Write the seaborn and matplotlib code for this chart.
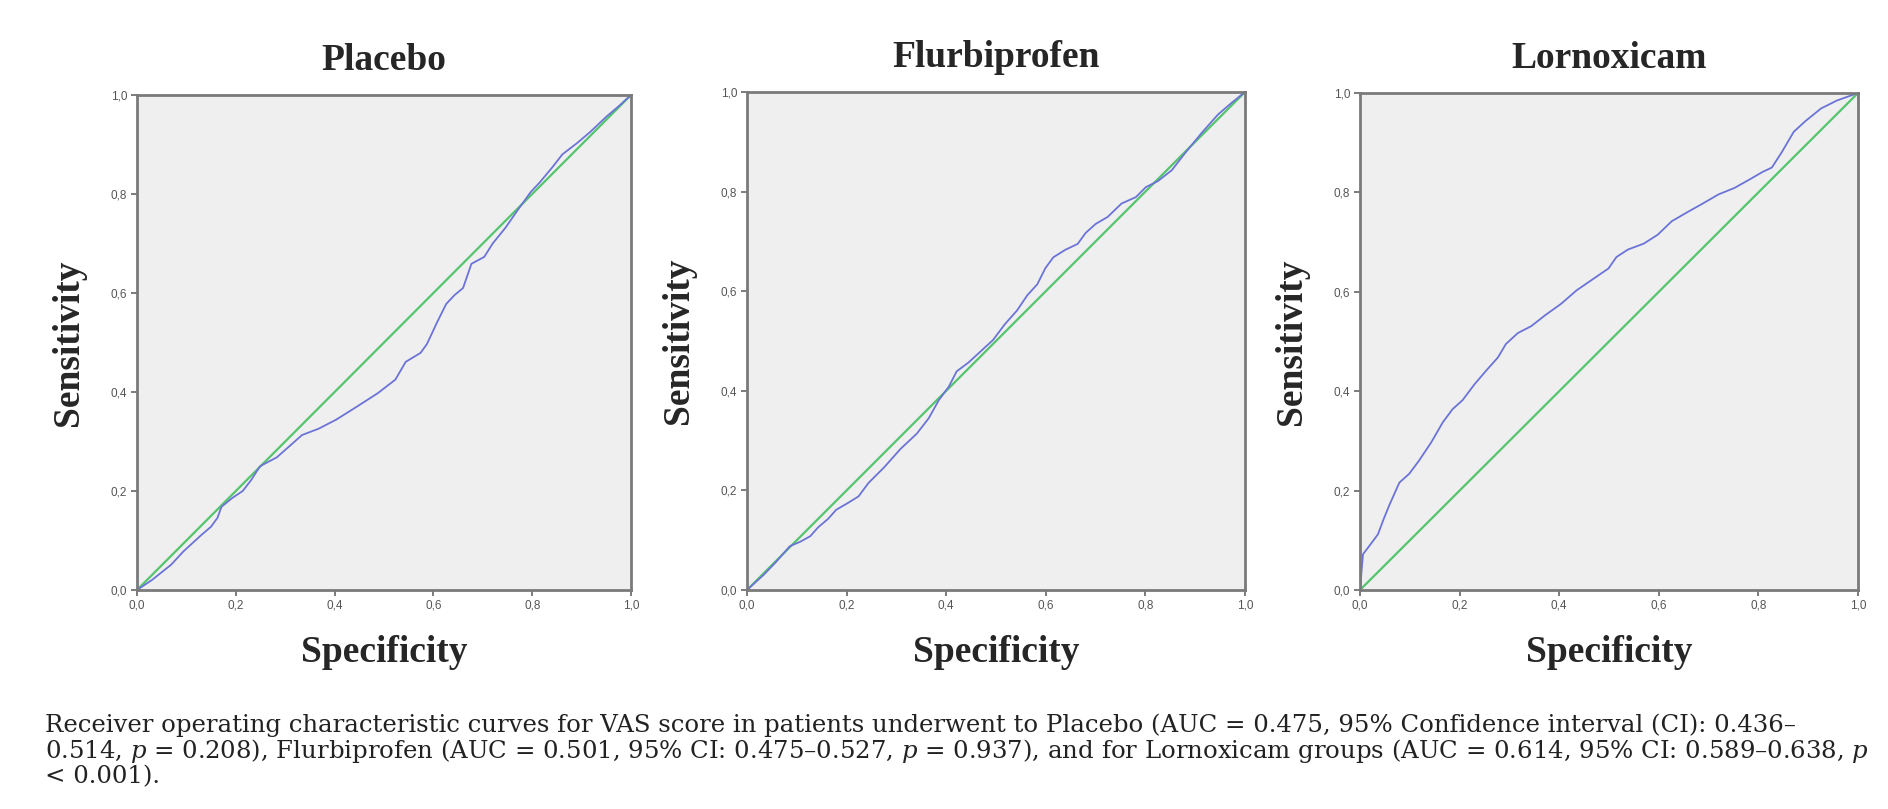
import matplotlib
matplotlib.use("Agg")
import matplotlib.pyplot as plt
import seaborn as sns
import pandas as pd

# ROC curves (1 - specificity on x, sensitivity on y)
placebo_x = [0, 0.03, 0.069, 0.094, 0.129, 0.150, 0.163, 0.171, 0.193, 0.214, 0.231, 0.249,
             0.283, 0.308, 0.334, 0.368, 0.403, 0.446, 0.488, 0.523, 0.544, 0.574, 0.587,
             0.608, 0.626, 0.643, 0.660, 0.677, 0.703, 0.720, 0.746, 0.771, 0.797, 0.814,
             0.840, 0.861, 0.891, 0.917, 0.951, 0.977, 1.0]
placebo_y = [0, 0.02, 0.051, 0.078, 0.110, 0.128, 0.146, 0.168, 0.186, 0.200, 0.222, 0.250,
             0.268, 0.290, 0.313, 0.326, 0.344, 0.371, 0.398, 0.425, 0.461, 0.479, 0.497,
             0.542, 0.578, 0.596, 0.610, 0.659, 0.673, 0.700, 0.732, 0.768, 0.804, 0.822,
             0.853, 0.880, 0.903, 0.925, 0.957, 0.979, 1.0]

flurbi_x = [0, 0.034, 0.058, 0.086, 0.107, 0.127, 0.143, 0.163, 0.179, 0.203, 0.224, 0.244,
            0.276, 0.308, 0.341, 0.365, 0.385, 0.405, 0.421, 0.445, 0.470, 0.494, 0.518,
            0.542, 0.563, 0.583, 0.599, 0.615, 0.639, 0.664, 0.680, 0.700, 0.724, 0.752,
            0.781, 0.801, 0.825, 0.853, 0.881, 0.914, 0.946, 0.974, 1.0]
flurbi_y = [0, 0.031, 0.056, 0.088, 0.097, 0.108, 0.126, 0.143, 0.161, 0.175, 0.188, 0.215,
            0.247, 0.283, 0.314, 0.345, 0.381, 0.408, 0.439, 0.457, 0.480, 0.502, 0.534,
            0.561, 0.592, 0.614, 0.646, 0.668, 0.683, 0.695, 0.717, 0.735, 0.749, 0.776,
            0.789, 0.809, 0.821, 0.843, 0.879, 0.919, 0.955, 0.979, 1.0]

lorno_x = [0, 0.006, 0.016, 0.036, 0.048, 0.059, 0.079, 0.099, 0.119, 0.143, 0.166, 0.186,
           0.206, 0.230, 0.253, 0.277, 0.293, 0.317, 0.344, 0.372, 0.404, 0.435, 0.467,
           0.499, 0.515, 0.538, 0.570, 0.598, 0.626, 0.657, 0.689, 0.720, 0.752, 0.784,
           0.808, 0.827, 0.847, 0.871, 0.895, 0.926, 0.958, 1.0]
lorno_y = [0, 0.072, 0.085, 0.112, 0.144, 0.171, 0.216, 0.234, 0.261, 0.297, 0.337, 0.364,
           0.382, 0.414, 0.441, 0.468, 0.495, 0.517, 0.531, 0.553, 0.576, 0.603, 0.625,
           0.647, 0.670, 0.685, 0.697, 0.715, 0.742, 0.760, 0.778, 0.796, 0.809, 0.827,
           0.841, 0.850, 0.881, 0.922, 0.944, 0.969, 0.985, 1.0]

diag = [0, 1]
titles = ["Placebo", "Flurbiprofen", "Lornoxicam"]
tick_vals = [0, 0.2, 0.4, 0.6, 0.8, 1.0]
tick_labels = ["0,0", "0,2", "0,4", "0,6", "0,8", "1,0"]

caption = [
    "Receiver operating characteristic curves for VAS score in patients underwent to Placebo "
    "(AUC = 0.475, 95% Confidence interval (CI): 0.436\u2013",
    "0.514, $p$ = 0.208), Flurbiprofen (AUC = 0.501, 95% CI: 0.475\u20130.527, $p$ = 0.937), "
    "and for Lornoxicam groups (AUC = 0.614, 95% CI: 0.589\u20130.638, $p$",
    "< 0.001).",
]

sns.set_style("white")
plt.rcParams["mathtext.fontset"] = "custom"
plt.rcParams["mathtext.rm"] = "DejaVu Serif"
plt.rcParams["mathtext.it"] = "DejaVu Serif:italic"

curves = [(placebo_x, placebo_y), (flurbi_x, flurbi_y), (lorno_x, lorno_y)]
boxes = [[137/1888, 1-590/809, 494/1888, 495/809],
         [747/1888, 1-590/809, 498/1888, 498/809],
         [1360/1888, 1-590/809, 498/1888, 497/809]]

fig = plt.figure(figsize=(18.88, 8.09), dpi=100)

for i in range(3):
    ax = fig.add_axes(boxes[i])
    ax.set_facecolor("#efefef")
    df = pd.DataFrame({"x": curves[i][0], "y": curves[i][1]})
    sns.lineplot(x=diag, y=diag, ax=ax, color="#55c46e", linewidth=1.6)
    sns.lineplot(data=df, x="x", y="y", ax=ax, color="#6b74d6", linewidth=1.3,
                 estimator=None, sort=False)
    ax.set_xlim(0, 1)
    ax.set_ylim(0, 1)
    ax.set_xticks(tick_vals)
    ax.set_yticks(tick_vals)
    ax.set_xticklabels(tick_labels)
    ax.set_yticklabels(tick_labels)
    ax.tick_params(direction="out", length=4, width=1.2, color="#666666",
                   labelsize=8.5, labelcolor="#555555", pad=3,
                   bottom=True, left=True)
    for t in ax.get_xticklabels() + ax.get_yticklabels():
        t.set_family("Liberation Sans")
    for s in ax.spines.values():
        s.set_color("#7a7a7a")
        s.set_linewidth(2)
    ax.set_title(titles[i], fontsize=27, fontweight="bold", family="Liberation Serif", pad=18)
    ax.set_xlabel("Specificity", fontsize=27, fontweight="bold", family="Liberation Serif",
                  labelpad=17)
    ax.set_ylabel("Sensitivity", fontsize=27, fontweight="bold", family="Liberation Serif",
                  labelpad=18)

ys = [725, 751, 777]
for line, y in zip(caption, ys):
    fig.text(45/1888, 1 - y/809, line, fontsize=17.6, family="DejaVu Serif",
             va="center", ha="left", color="#222222")

fig.savefig("out.png", dpi=100)
